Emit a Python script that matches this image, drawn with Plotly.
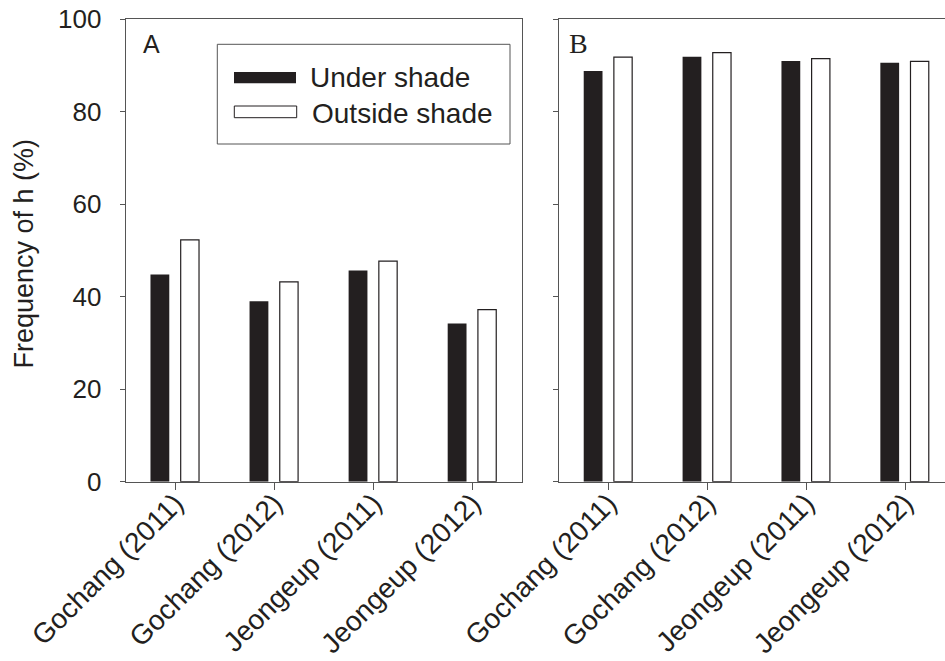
import plotly.graph_objects as go

# ---------------- data ----------------
sites = ["Gochang (2011)", "Gochang (2012)", "Jeongeup (2011)", "Jeongeup (2012)"]
a_under = [44.8, 39.0, 45.7, 34.2]
a_outside = [52.3, 43.2, 47.7, 37.2]
b_under = [88.8, 91.9, 91.0, 90.6]
b_outside = [91.8, 92.8, 91.5, 90.9]
y_ticks = [0, 20, 40, 60, 80, 100]
series_names = ["Under shade", "Outside shade"]
panel_labels = ["A", "B"]
y_title = "Frequency of h (%)"

# ---------------- layout helpers ----------------
W, H = 945, 661
INK = "#231f20"
AX = "#555555"
SANS = "Liberation Sans, Arial, sans-serif"
SERIF = "Liberation Serif, DejaVu Serif, serif"


def px(x):
    return x / W


def py(y):
    return 1 - y / H


fig = go.Figure()

# panel A bars
fig.add_trace(go.Bar(x=sites, y=a_under, offset=-0.25, width=0.19,
                     marker=dict(color=INK, line=dict(color=INK, width=0)),
                     xaxis="x", yaxis="y", showlegend=False, name=series_names[0]))
fig.add_trace(go.Bar(x=sites, y=a_outside, offset=0.055, width=0.185,
                     marker=dict(color="white", line=dict(color=INK, width=1.2)),
                     xaxis="x", yaxis="y", showlegend=False, name=series_names[1]))
# panel B bars
fig.add_trace(go.Bar(x=sites, y=b_under, offset=-0.25, width=0.19,
                     marker=dict(color=INK, line=dict(color=INK, width=0)),
                     xaxis="x2", yaxis="y2", showlegend=False, name=series_names[0]))
fig.add_trace(go.Bar(x=sites, y=b_outside, offset=0.055, width=0.185,
                     marker=dict(color="white", line=dict(color=INK, width=1.2)),
                     xaxis="x2", yaxis="y2", showlegend=False, name=series_names[1]))

ydom = [py(481.7), py(19.3)]

common_x = dict(type="category", showgrid=False, zeroline=False, showline=True,
                linecolor=AX, linewidth=1, mirror=True, ticks="outside",
                ticklen=7, tickcolor=AX, tickwidth=1, tickangle=-45,
                ticklabelstandoff=-14,
                tickfont=dict(family=SANS, size=28, color=INK), automargin=False)
common_y = dict(range=[0, 100], tickvals=y_ticks, showgrid=False, zeroline=False,
                showline=True, linecolor=AX, linewidth=1, ticks="outside",
                ticklen=5, tickcolor=AX, tickwidth=1, domain=ydom,
                tickfont=dict(family=SANS, size=26, color=INK), automargin=False)

fig.update_layout(
    width=W, height=H,
    margin=dict(l=0, r=0, t=0, b=0),
    paper_bgcolor="white", plot_bgcolor="white",
    barmode="overlay",
    showlegend=False,
    xaxis=dict(common_x, domain=[px(125.7), px(522)], range=[-0.5, 3.5], anchor="y"),
    yaxis=dict(common_y, mirror=True, anchor="x", ticklabelstandoff=13),
    xaxis2=dict(common_x, domain=[px(559), 1.0], range=[-0.5, 3.404], anchor="y2"),
    yaxis2=dict(common_y, mirror=False, anchor="x2", showticklabels=False),
)

shapes = []
annotations = []

# y axis title
annotations.append(dict(text=y_title, xref="paper", yref="paper", x=px(24), y=py(253.5),
                        xanchor="center", yanchor="middle", textangle=-90, showarrow=False,
                        font=dict(family=SANS, size=27, color=INK)))
# panel labels
annotations.append(dict(text=panel_labels[0], xref="paper", yref="paper", x=px(140.5), y=py(44.2),
                        xanchor="left", yanchor="middle", showarrow=False,
                        font=dict(family=SANS, size=25, color=INK)))
annotations.append(dict(text=panel_labels[1], xref="paper", yref="paper", x=px(567), y=py(43.5),
                        xanchor="left", yanchor="middle", showarrow=False,
                        font=dict(family=SERIF, size=28, color=INK)))

# manual legend (panel A)
shapes.append(dict(type="rect", xref="paper", yref="paper", x0=px(217.3), x1=px(510),
                   y0=py(144), y1=py(44.3), line=dict(color=AX, width=1), fillcolor="white",
                   layer="above"))
shapes.append(dict(type="rect", xref="paper", yref="paper", x0=px(234), x1=px(296),
                   y0=py(83.3), y1=py(72), line=dict(color=INK, width=0), fillcolor=INK,
                   layer="above"))
shapes.append(dict(type="rect", xref="paper", yref="paper", x0=px(234.3), x1=px(296.7),
                   y0=py(117.7), y1=py(106), line=dict(color=INK, width=1), fillcolor="white",
                   layer="above"))
annotations.append(dict(text=series_names[0], xref="paper", yref="paper", x=px(308), y=py(77.5),
                        xanchor="left", yanchor="middle", showarrow=False,
                        font=dict(family=SANS, size=28, color=INK)))
annotations.append(dict(text=series_names[1], xref="paper", yref="paper", x=px(310), y=py(113),
                        xanchor="left", yanchor="middle", showarrow=False,
                        font=dict(family=SANS, size=28, color=INK)))

fig.update_layout(shapes=shapes, annotations=annotations)

fig.write_html("out.html")
